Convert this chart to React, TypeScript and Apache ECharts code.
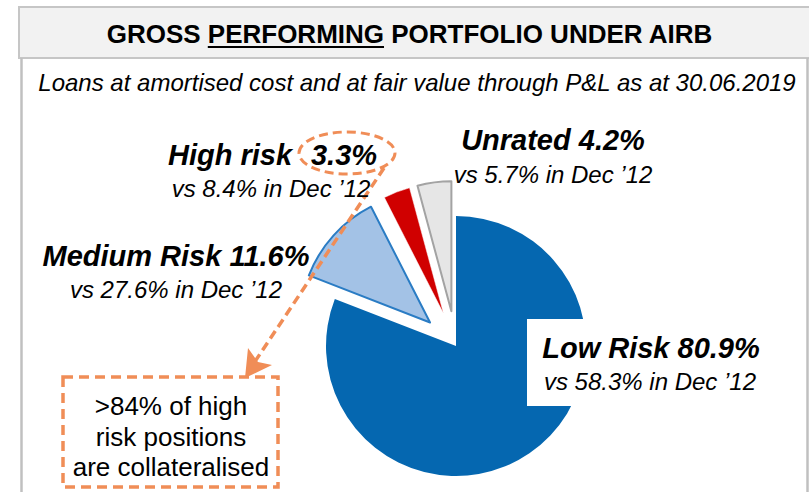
import React, { useEffect, useRef } from "react";
import * as echarts from "echarts";

const titleParts = ["GROSS ", "PERFORMING", " PORTFOLIO UNDER AIRB"];
const subtitle = "Loans at amortised cost and at fair value through P&L as at 30.06.2019";
const categories = ["Low Risk", "Medium Risk", "High risk", "Unrated"];
const shares = [80.9, 11.6, 3.3, 4.2];
const dec12Shares = [58.3, 27.6, 8.4, 5.7];
const exploded = [false, true, true, true];
const calloutLines = [">84% of high", "risk positions", "are collateralised"];

const FONT = "'Liberation Sans', Arial, Helvetica, sans-serif";
const ORANGE = "#f08d57";

const sliceStyles = [
  { color: "#0567b0", borderColor: "#0567b0", borderWidth: 0 },
  { color: "#a3c2e6", borderColor: "#2a7cc4", borderWidth: 2 },
  { color: "#d00000", borderColor: "#ffffff", borderWidth: 0.5 },
  { color: "#e6e6e6", borderColor: "#a3a3a3", borderWidth: 2 },
];

// label anchor positions (center x, middle y) for line 1 and line 2
const labelPos = [
  { x1: 651, y1: 348, x2: 650, y2: 381 },
  { x1: 176, y1: 256, x2: 176, y2: 289 },
  { x1: 168, y1: 155, x2: 271, y2: 188 },
  { x1: 553, y1: 140, x2: 553, y2: 174 },
];

function measure(text: string, font: string): number {
  const c = document.createElement("canvas");
  const ctx = c.getContext("2d");
  if (!ctx) return text.length * 14;
  ctx.font = font;
  return ctx.measureText(text).width;
}

export default function App() {
  const ref = useRef<HTMLDivElement>(null);

  useEffect(() => {
    if (!ref.current) return;
    const chart = echarts.init(ref.current, undefined, { renderer: "svg" });

    const titleFont = `bold 26px ${FONT}`;
    const w0 = measure(titleParts[0], titleFont);
    const w1 = measure(titleParts[1], titleFont);
    const w2 = measure(titleParts[2], titleFont);
    const total = w0 + w1 + w2;
    const tx = 410 - total / 2;
    const ty = 34;

    const boldStyle = (size: number) => ({
      fontFamily: FONT,
      fontWeight: "bold" as const,
      fontStyle: "italic" as const,
      fontSize: size,
      fill: "#000",
    });
    const italStyle = (size: number) => ({
      fontFamily: FONT,
      fontStyle: "italic" as const,
      fontSize: size,
      fill: "#000",
    });

    const graphics: any[] = [
      // title band
      {
        type: "rect",
        z: 1,
        shape: { x: 19, y: 7, width: 800, height: 51 },
        style: { fill: "#f2f2f2", stroke: "#c6c6c6", lineWidth: 2 },
      },
      {
        type: "line",
        z: 1,
        shape: { x1: 21.5, y1: 58, x2: 21.5, y2: 500 },
        style: { stroke: "#c0c0c0", lineWidth: 2.5 },
      },
      {
        type: "line",
        z: 1,
        shape: { x1: 807.5, y1: 58, x2: 807.5, y2: 500 },
        style: { stroke: "#c0c0c0", lineWidth: 2.5 },
      },
      {
        type: "text",
        z: 5,
        x: tx,
        y: ty,
        style: { text: titleParts[0], font: titleFont, fill: "#000", align: "left", verticalAlign: "middle" },
      },
      {
        type: "text",
        z: 5,
        x: tx + w0,
        y: ty,
        style: { text: titleParts[1], font: titleFont, fill: "#000", align: "left", verticalAlign: "middle" },
      },
      {
        type: "line",
        z: 5,
        shape: { x1: tx + w0, y1: ty + 13, x2: tx + w0 + w1, y2: ty + 13 },
        style: { stroke: "#000", lineWidth: 2 },
      },
      {
        type: "text",
        z: 5,
        x: tx + w0 + w1,
        y: ty,
        style: { text: titleParts[2], font: titleFont, fill: "#000", align: "left", verticalAlign: "middle" },
      },
      {
        type: "text",
        z: 5,
        x: 417,
        y: 82,
        style: { text: subtitle, ...italStyle(24), align: "center", verticalAlign: "middle" },
      },
      // white box behind the low-risk label
      {
        type: "rect",
        z: 50,
        shape: { x: 527, y: 319, width: 278, height: 87 },
        style: { fill: "#ffffff" },
      },
    ];

    categories.forEach((name, i) => {
      const p = labelPos[i];
      if (i === 2) {
        graphics.push({
          type: "text",
          z: 60,
          x: p.x1,
          y: p.y1,
          style: { text: name, ...boldStyle(29), align: "left", verticalAlign: "middle" },
        });
        graphics.push({
          type: "text",
          z: 60,
          x: 344,
          y: p.y1,
          style: { text: `${shares[i]}%`, ...boldStyle(29), align: "center", verticalAlign: "middle" },
        });
      } else {
        graphics.push({
          type: "text",
          z: 60,
          x: p.x1,
          y: p.y1,
          style: { text: `${name} ${shares[i]}%`, ...boldStyle(29), align: "center", verticalAlign: "middle" },
        });
      }
      graphics.push({
        type: "text",
        z: 60,
        x: p.x2,
        y: p.y2,
        style: { text: `vs ${dec12Shares[i]}% in Dec \u201912`, ...italStyle(24), align: "center", verticalAlign: "middle" },
      });
    });

    // orange annotation
    graphics.push(
      {
        type: "ellipse",
        z: 55,
        shape: { cx: 347, cy: 153, rx: 48, ry: 21 },
        style: { fill: "none", stroke: ORANGE, lineWidth: 3, lineDash: [9, 5] },
      },
      {
        type: "line",
        z: 55,
        shape: { x1: 384, y1: 168, x2: 252, y2: 366 },
        style: { stroke: ORANGE, lineWidth: 3.5, lineDash: [9, 5] },
      },
      {
        type: "polygon",
        z: 55,
        shape: { points: [[245, 378], [248, 348], [258, 362], [272, 365]] },
        style: { fill: ORANGE },
      },
      {
        type: "rect",
        z: 55,
        shape: { x: 63, y: 377, width: 215, height: 110 },
        style: { fill: "none", stroke: ORANGE, lineWidth: 3.5, lineDash: [10, 6] },
      }
    );
    calloutLines.forEach((line, i) => {
      graphics.push({
        type: "text",
        z: 60,
        x: 171,
        y: 406 + i * 30.5,
        style: { text: line, fontFamily: FONT, fontSize: 26, fill: "#000", align: "center", verticalAlign: "middle" },
      });
    });

    chart.setOption({
      animation: false,
      backgroundColor: "#ffffff",
      series: [
        {
          type: "pie",
          center: [456, 346],
          radius: 130,
          startAngle: 90,
          clockwise: true,
          selectedMode: "multiple",
          selectedOffset: 35,
          silent: true,
          avoidLabelOverlap: false,
          label: { show: false },
          labelLine: { show: false },
          emphasis: { disabled: true },
          data: categories.map((name, i) => ({
            name,
            value: shares[i],
            selected: exploded[i],
            itemStyle: sliceStyles[i],
          })),
        },
      ],
      graphic: graphics,
    });

    return () => chart.dispose();
  }, []);

  return (
    <div
      ref={ref}
      style={{ position: "fixed", left: 0, top: 0, width: 809, height: 492 }}
    />
  );
}
